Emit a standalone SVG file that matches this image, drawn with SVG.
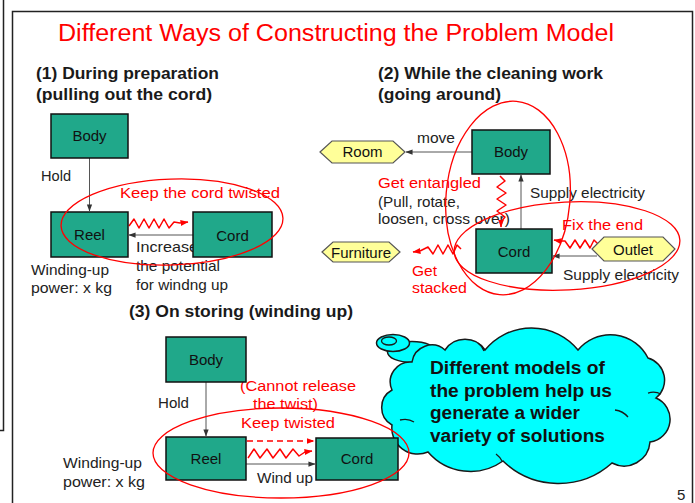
<svg xmlns="http://www.w3.org/2000/svg" width="695" height="503" viewBox="0 0 695 503">
<style>
text { font-family: "Liberation Sans", Arial, sans-serif; }
.ttl { font-size: 23px; fill: #ff0000; }
.hd { font-size: 16px; font-weight: bold; fill: #1a1a1a; }
.lb { font-size: 15px; fill: #222; }
.rd { font-size: 15.5px; fill: #ff0000; }
.nt { font-size: 15px; fill: #111; text-anchor: middle; }
.ct { font-size: 18px; font-weight: bold; fill: #111; }
.box { fill: #20a88a; stroke: #111; stroke-width: 1.5; }
.hex { fill: #ffff99; stroke: #555; stroke-width: 1.2; }
.arr { fill: none; stroke: #555; stroke-width: 1; marker-end: url(#ga); }
.zz { fill: none; stroke: #ff0000; stroke-width: 1.5; stroke-linejoin: round; marker-end: url(#ra); }
.dash { fill: none; stroke: #ff0000; stroke-width: 1.5; stroke-dasharray: 6 4; marker-end: url(#ra); }
.ell { fill: none; stroke: #ff0000; stroke-width: 1.3; }
.cld { fill: #00ffff; stroke: #1a1a1a; stroke-width: 1.5; }
.cin { fill: none; stroke: #1a1a1a; stroke-width: 1.3; }
.frm { fill: none; stroke: #222; stroke-width: 1.5; }
</style>
<defs>
<marker id="ga" viewBox="0 0 8 8" refX="7.5" refY="4" markerWidth="7" markerHeight="7" markerUnits="userSpaceOnUse" orient="auto"><path d="M0,1 L8,4 L0,7 z" fill="#333"/></marker>
<marker id="ra" viewBox="0 0 8 8" refX="7.5" refY="4" markerWidth="8" markerHeight="8" markerUnits="userSpaceOnUse" orient="auto"><path d="M0,1 L8,4 L0,7 z" fill="#ff0000"/></marker>
</defs>
<rect width="695" height="503" fill="#ffffff"/>
<g id="frame">
<path class="frm" d="M3.5,0 V430.5 H0"/>
<path class="frm" d="M12.5,503 V11.5 H692.5 V503"/>
</g>
<text class="ttl" x="58" y="41" textLength="556" lengthAdjust="spacingAndGlyphs">Different Ways of Constructing the Problem Model</text>

<!-- Section headings -->
<g id="headings">
<text class="hd" x="36" y="79" textLength="183" lengthAdjust="spacingAndGlyphs">(1) During preparation</text>
<text class="hd" x="36" y="100" textLength="176" lengthAdjust="spacingAndGlyphs">(pulling out the cord)</text>
<text class="hd" x="378" y="79" textLength="225" lengthAdjust="spacingAndGlyphs">(2) While the cleaning work</text>
<text class="hd" x="378" y="100" textLength="123" lengthAdjust="spacingAndGlyphs">(going around)</text>
<text class="hd" x="129" y="317" textLength="224" lengthAdjust="spacingAndGlyphs">(3) On storing (winding up)</text>
</g>

<!-- Cloud note (behind section 3) -->
<g id="note">
<ellipse class="cld" cx="412" cy="352" rx="24.5" ry="10.5"/>
<path class="cld" d="M412,362 A20,20 0 0 1 445,350 A24,24 0 0 1 485,350 A60,60 0 0 1 578,350 A42,42 0 0 1 648,358 A23,23 0 0 1 656,398 A23,23 0 0 1 650,442 A26,26 0 0 1 612,463 A80,80 0 0 1 503,461 A56,56 0 0 1 428,452 A26,26 0 0 1 392,425 A20,20 0 0 1 392,390 A20,20 0 0 1 412,362 Z"/>
<path class="cin" d="M400,420 Q408,418 414,422"/>
<path class="cin" d="M615,410 Q623,411 628,417"/>
<path class="cin" d="M648,393 Q655,391 661,394"/>
<path class="cin" d="M484,351 Q482,346 478,343"/>
<path class="cin" d="M502,461 Q500,457 496,454"/>
<ellipse class="cld" cx="393" cy="343" rx="16.5" ry="8.5"/>
<ellipse class="cin" cx="389" cy="341" rx="7.5" ry="4"/>
<text class="ct" x="430" y="374" textLength="175" lengthAdjust="spacingAndGlyphs">Different models of</text>
<text class="ct" x="430" y="396.5" textLength="182" lengthAdjust="spacingAndGlyphs">the problem help us</text>
<text class="ct" x="430" y="419" textLength="150" lengthAdjust="spacingAndGlyphs">generate a wider</text>
<text class="ct" x="430" y="441.5" textLength="175" lengthAdjust="spacingAndGlyphs">variety of solutions</text>
</g>

<!-- Labels drawn beneath boxes -->
<g id="labels">
<text class="lb" x="41" y="181" textLength="30" lengthAdjust="spacingAndGlyphs">Hold</text>
<text class="lb" x="136" y="252" textLength="62" lengthAdjust="spacingAndGlyphs">Increase</text>
<text class="lb" x="136" y="271" textLength="84" lengthAdjust="spacingAndGlyphs">the potential</text>
<text class="lb" x="136" y="290" textLength="92" lengthAdjust="spacingAndGlyphs">for windng up</text>
<text class="lb" x="31" y="275" textLength="78" lengthAdjust="spacingAndGlyphs">Winding-up</text>
<text class="lb" x="31" y="293" textLength="81" lengthAdjust="spacingAndGlyphs">power: x kg</text>
<text class="lb" x="417" y="143" textLength="38" lengthAdjust="spacingAndGlyphs">move</text>
<text class="lb" x="378" y="207" textLength="82" lengthAdjust="spacingAndGlyphs">(Pull, rotate,</text>
<text class="lb" x="378" y="224" textLength="132" lengthAdjust="spacingAndGlyphs">loosen, cross over)</text>
<text class="lb" x="530" y="198" textLength="115" lengthAdjust="spacingAndGlyphs">Supply electricity</text>
<text class="lb" x="563" y="280" textLength="116" lengthAdjust="spacingAndGlyphs">Supply electricity</text>
<text class="lb" x="158" y="408" textLength="31" lengthAdjust="spacingAndGlyphs">Hold</text>
<text class="lb" x="257" y="483" textLength="56" lengthAdjust="spacingAndGlyphs">Wind up</text>
<text class="lb" x="63" y="468" textLength="79" lengthAdjust="spacingAndGlyphs">Winding-up</text>
<text class="lb" x="63" y="487" textLength="82" lengthAdjust="spacingAndGlyphs">power: x kg</text>
<text class="rd" x="120" y="198" textLength="160" lengthAdjust="spacingAndGlyphs">Keep the cord twisted</text>
<text class="rd" x="378" y="188" textLength="103" lengthAdjust="spacingAndGlyphs">Get entangled</text>
<text class="rd" x="562" y="230" textLength="81" lengthAdjust="spacingAndGlyphs">Fix the end</text>
<text class="rd" x="412" y="276" textLength="25" lengthAdjust="spacingAndGlyphs">Get</text>
<text class="rd" x="412" y="293" textLength="55" lengthAdjust="spacingAndGlyphs">stacked</text>
<text class="rd" x="240" y="391" textLength="116" lengthAdjust="spacingAndGlyphs">(Cannot release</text>
<text class="rd" x="253" y="409" textLength="65" lengthAdjust="spacingAndGlyphs">the twist)</text>
<text class="rd" x="241" y="428" textLength="94" lengthAdjust="spacingAndGlyphs">Keep twisted</text>
</g>

<!-- Connectors -->
<g id="connectors">
<path class="arr" d="M89.5,158 V211"/>
<path class="arr" d="M193,235 H129"/>
<polyline class="zz" points="129,226 134,219 139,228 144,219 149,228 154,219 159,228 164,219 169,228 174,222 180,223 188,222"/>
<path class="arr" d="M472,152 H406"/>
<path class="arr" d="M521,229 V175"/>
<path class="arr" d="M597,256 H553"/>
<polyline class="zz" points="500,176 505,181 497,187 506,193 497,199 506,205 497,211 505,217 501,222 501,227"/>
<polyline class="zz" points="598,244 594,240 590,248 585,240 580,248 575,240 570,248 565,241 560,241 554,240"/>
<polyline class="zz" points="461,249 457,245 453,254 448,245 443,254 438,245 433,254 428,247 420,251 413,252"/>
<path class="arr" d="M206,382 V436"/>
<path class="arr" d="M246,464 H315"/>
<path class="dash" d="M247,441 H314"/>
<polyline class="zz" points="248,458 254,449 260,458 267,449 273,458 280,449 286,458 293,449 299,456 305,452 312,451"/>
</g>

<!-- Nodes -->
<g id="s1-body"><rect class="box" x="51" y="114" width="77" height="44"/><text class="nt" x="89.5" y="141">Body</text></g>
<g id="s1-reel"><rect class="box" x="51" y="212" width="77" height="45"/><text class="nt" x="89.5" y="240">Reel</text></g>
<g id="s1-cord"><rect class="box" x="193" y="212" width="79" height="45"/><text class="nt" x="232.5" y="241">Cord</text></g>

<g id="s2-body"><rect class="box" x="472" y="130" width="78" height="44"/><text class="nt" x="511" y="157">Body</text></g>
<g id="s2-cord"><rect class="box" x="476" y="229" width="76" height="44"/><text class="nt" x="514" y="257">Cord</text></g>
<g id="s2-room"><polygon class="hex" points="320,152 332,141 393,141 405,152 393,163 332,163"/><text class="nt" x="362.5" y="157">Room</text></g>
<g id="s2-furniture"><polygon class="hex" points="322,252 333,242 389,242 400,252 389,262 333,262"/><text class="nt" x="361" y="258">Furniture</text></g>
<g id="s2-outlet"><polygon class="hex" points="592,249 604,237 663,237 675,249 663,261 604,261"/><text class="nt" x="633" y="255">Outlet</text></g>

<g id="s3-body"><rect class="box" x="166" y="337" width="80" height="45"/><text class="nt" x="206" y="365">Body</text></g>
<g id="s3-reel"><rect class="box" x="166" y="437" width="80" height="43"/><text class="nt" x="206" y="464">Reel</text></g>
<g id="s3-cord"><rect class="box" x="316" y="438" width="82" height="42"/><text class="nt" x="357" y="464">Cord</text></g>

<!-- Red highlight ellipses -->
<g id="highlights">
<ellipse class="ell" cx="172" cy="222" rx="111" ry="43" transform="rotate(-2 172 222)"/>
<ellipse class="ell" cx="508" cy="198" rx="62" ry="97" transform="rotate(5 508 198)"/>
<ellipse class="ell" cx="567" cy="246" rx="113" ry="44" transform="rotate(-3 567 246)"/>
<ellipse class="ell" cx="281" cy="453" rx="128" ry="45"/>
</g>

<text class="lb" x="677" y="500">5</text>
</svg>
